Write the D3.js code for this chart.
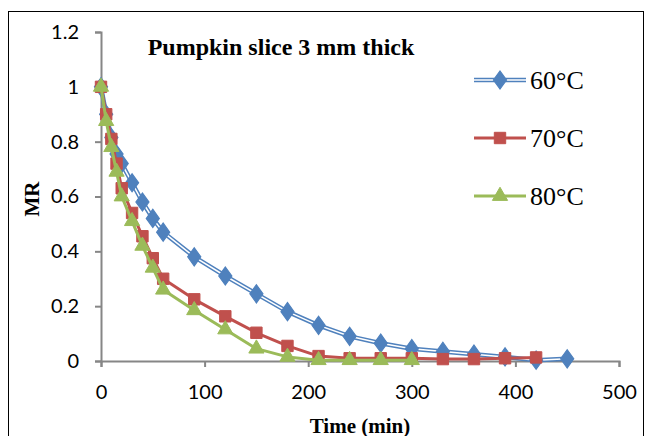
<!DOCTYPE html>
<html>
<head>
<meta charset="utf-8">
<script src="https://cdn.jsdelivr.net/npm/d3@7"></script>
<style>
	body { margin: 0; background: #fff; }
	svg text { fill: #000; }
	.tick-label { font-family: Lato, "Open Sans", sans-serif; font-size: 20px; }
	.serif { font-family: "Liberation Serif", "Times New Roman", serif; }
</style>
</head>
<body>
<svg id="chart" width="646" height="436"></svg>
<script>
// drying time in minutes for each temperature
var times60 = [0, 5, 10, 15, 20, 30, 40, 50, 60, 90, 120, 150, 180, 210, 240, 270, 300, 330, 360, 390, 420, 450];
var mr60 = [1, 0.9, 0.815, 0.755, 0.72, 0.65, 0.58, 0.52, 0.47, 0.38, 0.31, 0.245, 0.18, 0.13, 0.09, 0.065, 0.045, 0.035, 0.025, 0.015, 0.003, 0.008];

var times70 = [0, 5, 10, 15, 20, 30, 40, 50, 60, 90, 120, 150, 180, 210, 240, 270, 300, 330, 360, 390, 420];
var mr70 = [1, 0.9, 0.81, 0.72, 0.63, 0.54, 0.455, 0.375, 0.3, 0.225, 0.163, 0.103, 0.055, 0.018, 0.01, 0.01, 0.01, 0.007, 0.007, 0.01, 0.013];

var times80 = [0, 5, 10, 15, 20, 30, 40, 50, 60, 90, 120, 150, 180, 210, 240, 270, 300];
var mr80 = [1, 0.875, 0.78, 0.69, 0.6, 0.51, 0.42, 0.34, 0.26, 0.185, 0.115, 0.045, 0.015, 0.003, 0.003, 0.003, 0.003];

var seriesNames = ['60°C', '70°C', '80°C'];
var xTicks = [0, 100, 200, 300, 400, 500];
var yTicks = [0, 0.2, 0.4, 0.6, 0.8, 1, 1.2];

var svg = d3.select('#chart');

// chart area border
svg.append('rect')
	.attr('x', 8.5).attr('y', 11.5)
	.attr('width', 635).attr('height', 440)
	.attr('fill', 'none')
	.attr('stroke', '#000')
	.attr('stroke-width', 1);

var x = d3.scaleLinear().domain([0, 500]).range([101, 619]);
var y = d3.scaleLinear().domain([0, 1.2]).range([361, 32]);

var axisColor = '#868686';

var xAxis = svg.append('g')
	.attr('transform', 'translate(0,361)')
	.call(d3.axisBottom(x).tickValues(xTicks).tickSize(6).tickPadding(13).tickFormat(d3.format('d')));
var yAxis = svg.append('g')
	.attr('transform', 'translate(101,0)')
	.call(d3.axisLeft(y).tickValues(yTicks).tickSize(6).tickPadding(16).tickFormat(function(d) { return d3.format('~g')(d); }));

[xAxis, yAxis].forEach(function(ax) {
	ax.select('.domain').attr('stroke', axisColor).attr('stroke-width', 2);
	ax.selectAll('.tick line').attr('stroke', axisColor).attr('stroke-width', 2);
	ax.selectAll('.tick text').attr('class', 'tick-label').attr('fill', '#000');
});
xAxis.selectAll('.tick text').attr('dy', '0.95em');

// title + axis titles
svg.append('text')
	.attr('class', 'serif')
	.attr('x', 281).attr('y', 55)
	.attr('text-anchor', 'middle')
	.attr('font-size', 24).attr('font-weight', 'bold')
	.text('Pumpkin slice 3 mm thick');

svg.append('text')
	.attr('class', 'serif')
	.attr('transform', 'translate(39,199) rotate(-90)')
	.attr('text-anchor', 'middle')
	.attr('font-size', 21).attr('font-weight', 'bold')
	.text('MR');

svg.append('text')
	.attr('class', 'serif')
	.attr('x', 360).attr('y', 433)
	.attr('text-anchor', 'middle')
	.attr('font-size', 21).attr('font-weight', 'bold')
	.text('Time (min)');

var series = [
	{ name: seriesNames[0], t: times60, v: mr60, color: '#4F81BD', symbol: d3.symbolDiamond, double: true },
	{ name: seriesNames[1], t: times70, v: mr70, color: '#C0504D', symbol: d3.symbolSquare, double: false },
	{ name: seriesNames[2], t: times80, v: mr80, color: '#9BBB59', symbol: d3.symbolTriangle, double: false }
];

var line = d3.line()
	.x(function(d) { return x(d[0]); })
	.y(function(d) { return y(d[1]); });

function drawMarker(g, s, cx, cy) {
	var size = s.symbol === d3.symbolDiamond ? 95 : (s.symbol === d3.symbolSquare ? 130 : 100);
	g.append('path')
		.attr('d', d3.symbol().type(s.symbol).size(size)())
		.attr('transform', 'translate(' + cx + ',' + cy + ')' + (s.symbol === d3.symbolDiamond ? ' scale(1.25,1)' : ''))
		.attr('fill', s.color)
		.attr('stroke', s.color)
		.attr('stroke-width', 1);
}

series.forEach(function(s) {
	var pts = s.t.map(function(t, i) { return [t, s.v[i]]; });
	var g = svg.append('g');

	if (s.double) {
		g.append('path').attr('d', line(pts)).attr('fill', 'none')
			.attr('stroke', s.color).attr('stroke-width', 4.5).attr('stroke-linejoin', 'round');
		g.append('path').attr('d', line(pts)).attr('fill', 'none')
			.attr('stroke', '#fff').attr('stroke-width', 1.5).attr('stroke-linejoin', 'round');
	} else {
		g.append('path').attr('d', line(pts)).attr('fill', 'none')
			.attr('stroke', s.color).attr('stroke-width', 3).attr('stroke-linejoin', 'round');
	}

	pts.forEach(function(p) {
		drawMarker(g, s, x(p[0]), y(p[1]));
	});
});

// legend
series.forEach(function(s, i) {
	var ly = 80 + i * 58;
	var g = svg.append('g');
	if (s.double) {
		g.append('line').attr('x1', 474).attr('x2', 526).attr('y1', ly).attr('y2', ly)
			.attr('stroke', s.color).attr('stroke-width', 4.5);
		g.append('line').attr('x1', 474).attr('x2', 526).attr('y1', ly).attr('y2', ly)
			.attr('stroke', '#fff').attr('stroke-width', 1.5);
	} else {
		g.append('line').attr('x1', 474).attr('x2', 526).attr('y1', ly).attr('y2', ly)
			.attr('stroke', s.color).attr('stroke-width', 3);
	}
	drawMarker(g, s, 500, ly);
	g.append('text')
		.attr('class', 'serif')
		.attr('x', 530).attr('y', ly)
		.attr('dy', '0.35em')
		.attr('font-size', 26)
		.text(s.name);
});
</script>
</body>
</html>
